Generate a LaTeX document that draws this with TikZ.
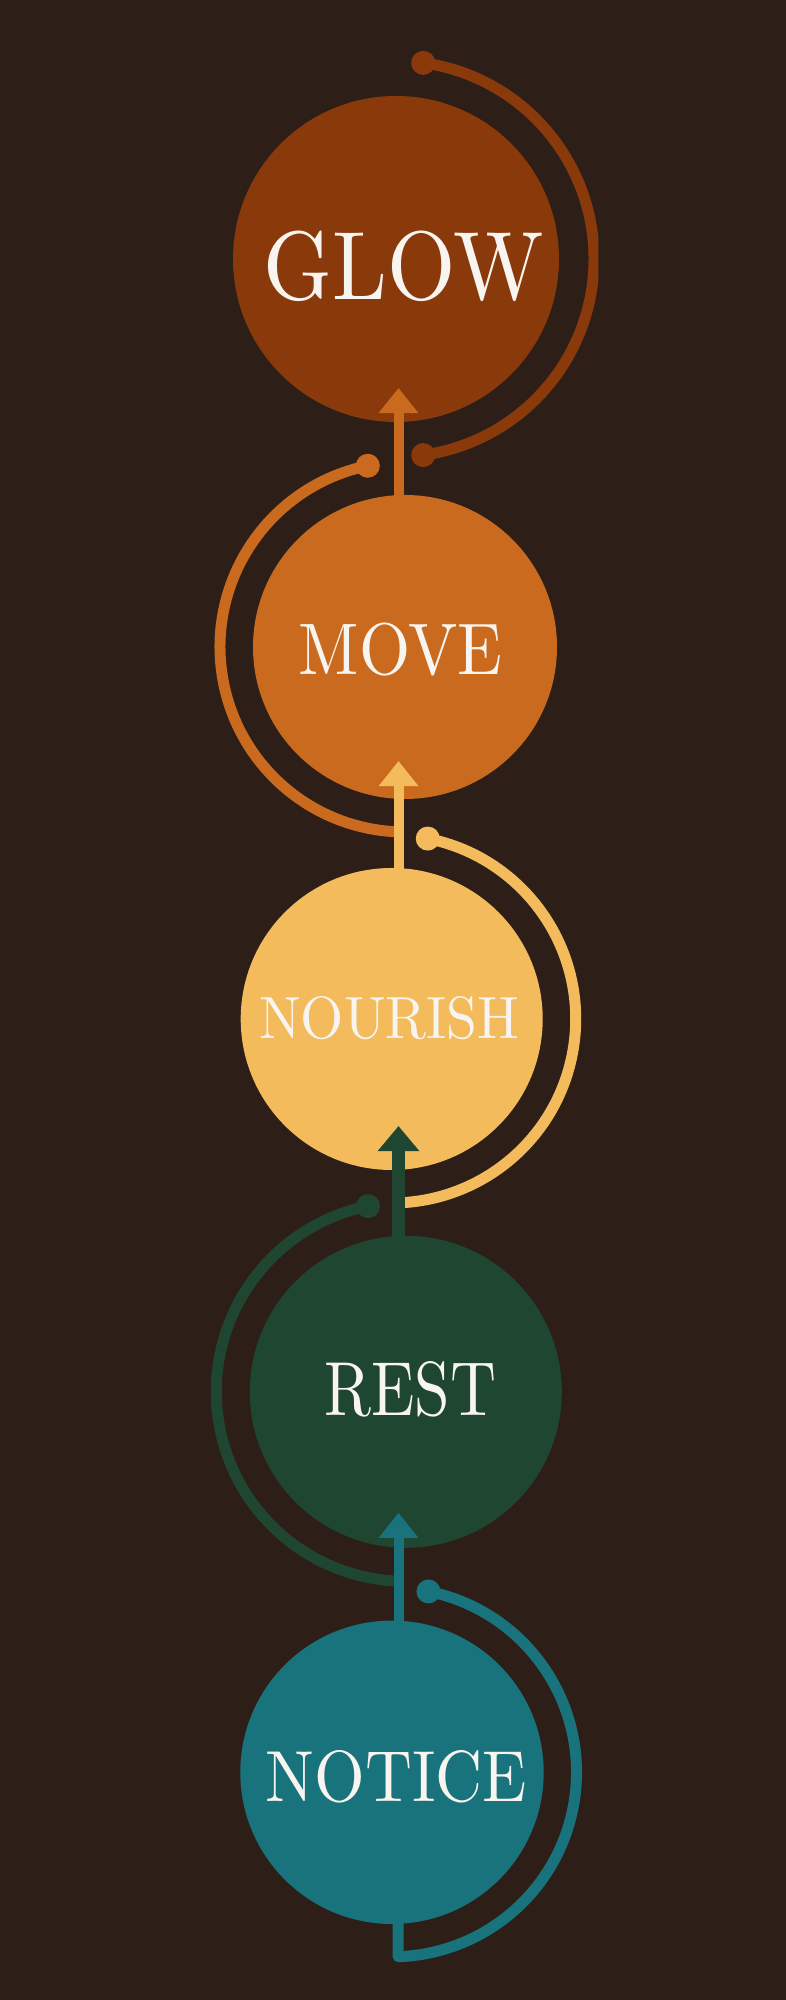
\documentclass[tikz,border=0pt]{standalone}
\usepackage{graphicx}
\usetikzlibrary{calc}
\definecolor{bg}{HTML}{2D1F18}
\definecolor{cglow}{HTML}{8A390B}
\definecolor{cmove}{HTML}{CA6A1E}
\definecolor{cnour}{HTML}{F3BB5B}
\definecolor{crest}{HTML}{1F4631}
\definecolor{cnot}{HTML}{18737C}
\definecolor{txt}{HTML}{F8F4F0}
\begin{document}
\begin{tikzpicture}[x=1pt,y=1pt,
  stage/.style={circle, inner sep=0pt, minimum size=#1, draw=none},
  lbl/.style={inner sep=0pt, text=txt},
  orbit/.style={line width=11pt},
  stem/.style={line width=10pt},
  knob/.style={radius=12pt},
]
\useasboundingbox (0,0) rectangle (785,2000);
\fill[bg] (-6,-6) rectangle (791,2006);
\coordinate (axis) at (398.5,0);

% stages
\node[stage=326pt, fill=cglow] (glow) at (396,1741) {};
\node[stage=304pt, fill=cmove] (move) at (405,1353) {};
\node[stage=302pt, fill=cnour] (nourish) at (391.7,981) {};
\node[stage=312pt, fill=crest] (rest) at (405.8,608.2) {};
\node[stage=303.4pt, fill=cnot] (notice) at (392,227.7) {};

% orbits
\coordinate (glow-a) at ($(glow.center)+(82.1:198pt)$);
\coordinate (glow-b) at ($(glow.center)+(-82.1:198pt)$);
\begin{scope}
  \clip (0,0) rectangle (598.3,2000);
  \draw[orbit, cglow] (glow-a) arc[start angle=82.1, end angle=-82.1, radius=198pt];
\end{scope}
\fill[cglow] (glow-a) circle[knob];
\fill[cglow] (glow-b) circle[knob];

\coordinate (move-a) at ($(move.center)+(101.6:185pt)$);
\draw[orbit, cmove] (move-a) arc[start angle=101.6, end angle=267.8, radius=185pt];
\fill[cmove] (move-a) circle[knob];

\coordinate (nourish-a) at ($(nourish.center)+(78.7:184pt)$);
\draw[orbit, cnour] (nourish-a) arc[start angle=78.7, end angle=-88.0, radius=184pt];
\fill[cnour] (nourish-a) circle[knob];

\coordinate (rest-a) at ($(rest.center)+(101.5:189.5pt)$);
\draw[orbit, crest] (rest-a) arc[start angle=101.5, end angle=267.3, radius=189.5pt];
\fill[crest] (rest-a) circle[knob];

\coordinate (notice-a) at ($(notice.center)+(78.6:184.5pt)$);
\draw[orbit, cnot, line join=round] (notice-a) arc[start angle=78.6, end angle=-88.1, radius=184.5pt] -- ++(0,40);
\fill[cnot] (notice-a) circle[knob];

% stems with heads
\coordinate (m-top) at (move.north -| axis);
\coordinate (g-bot) at (glow.south -| axis);
\draw[stem, cmove] ($(m-top)+(0,-3)$) -- ($(g-bot)+(0,9.5)$);
\fill[cmove] ($(g-bot)+(-20,9)$) -- ($(g-bot)+(20,9)$) -- ($(g-bot)+(0,34)$) -- cycle;

\coordinate (n-top) at (nourish.north -| axis);
\coordinate (m-bot) at (move.south -| axis);
\draw[stem, cnour] ($(n-top)+(0,-3)$) -- ($(m-bot)+(0,13.5)$);
\fill[cnour] ($(m-bot)+(-20,13)$) -- ($(m-bot)+(20,13)$) -- ($(m-bot)+(0,38)$) -- cycle;

\coordinate (r-top) at (rest.north -| axis);
\coordinate (n-bot) at (nourish.south -| axis);
\draw[stem, crest, line width=12.5pt] ($(r-top)+(0,-3)$) -- ($(n-bot)+(0,19.5)$);
\fill[crest] ($(n-bot)+(-21,19)$) -- ($(n-bot)+(21,19)$) -- ($(n-bot)+(0,44)$) -- cycle;

\coordinate (t-top) at (notice.north -| axis);
\coordinate (r-bot) at (rest.south -| axis);
\draw[stem, cnot] ($(t-top)+(0,-3)$) -- ($(r-bot)+(0,10.5)$);
\fill[cnot] ($(r-bot)+(-20,10)$) -- ($(r-bot)+(20,10)$) -- ($(r-bot)+(0,35)$) -- cycle;

% labels
\node[lbl] (glow-t) at (403.3,1733.7) {\resizebox{280pt}{68.5pt}{GLOW}};
\node[lbl] (move-t) at (400.8,1350.8) {\resizebox{203.7pt}{51.5pt}{MOVE}};
\node[lbl] (nourish-t) at (389.3,981.7) {\resizebox{260pt}{42pt}{NOURISH}};
\node[lbl] (rest-t) at (410.2,610.5) {\resizebox{171.7pt}{54pt}{REST}};
\node[lbl] (notice-t) at (396.2,223) {\resizebox{261pt}{51pt}{NOTICE}};
\end{tikzpicture}
\end{document}
